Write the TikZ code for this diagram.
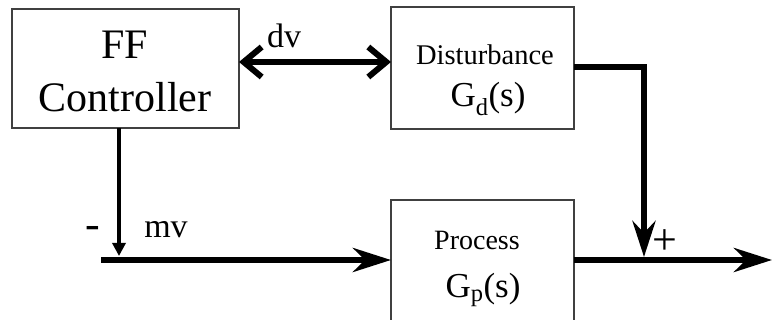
\documentclass[tikz,border=0pt]{standalone}
\usepackage{fontspec}
\setmainfont{Liberation Serif}
\usetikzlibrary{arrows.meta}
\begin{document}
\begin{tikzpicture}[x=1pt,y=-1pt,
  blockbox/.style={draw=black!75,line width=1.3pt,inner sep=0pt},
  heavy/.style={line width=6pt},
  signal/.style={heavy,-{Stealth[length=38pt,width=24pt,inset=12pt]}},
  sumin/.style={heavy,-{Stealth[length=36pt,width=23pt,inset=12pt]}},
  ffout/.style={line width=4pt,-{Triangle[length=13pt,width=13pt]}},
  twoway/.style={heavy,{Straight Barb[length=18pt,width=30pt]}-{Straight Barb[length=18pt,width=30pt]}}]
\useasboundingbox (0,0) rectangle (772,320);
\clip (0,0) rectangle (772,320);

% blocks
\draw[blockbox] (12,9) rectangle (239,128);
\coordinate (ffE) at (239,62);
\coordinate (ffS) at (119,128);
\node[font=\fontsize{42}{53}\selectfont,align=center] (fftext) at (125,71) {FF\\Controller};

\draw[blockbox] (391,7) rectangle (574,129);
\coordinate (distW) at (391,62);
\coordinate (distE) at (574,67);
\node[font=\fontsize{28.5}{30}\selectfont] (disttext) at (485,55) {Disturbance};
\node[font=\fontsize{35}{40}\selectfont] (gd) at (488,99) {G\textsubscript{d}(s)};

\draw[blockbox] (391,200) rectangle (574,340);
\coordinate (procW) at (391,260);
\coordinate (procE) at (574,260);
\node[font=\fontsize{28}{30}\selectfont] (proctext) at (477,240) {Process};
\node[font=\fontsize{35}{40}\selectfont] (gp) at (483,290) {G\textsubscript{p}(s)};

% junction points
\coordinate (mvstart) at (101,260);
\coordinate (ffjoin) at (119,256);
\coordinate (sumtop) at (644,257);
\coordinate (outend) at (772,260);

% connectors
\draw[twoway] (ffE) -- (distW);
\draw[ffout] (ffS) -- (ffjoin);
\draw[signal] (mvstart) -- (procW);
\draw[sumin,line join=miter] (distE) -| (sumtop);
\draw[signal] (procE) -- (outend);

% labels
\node[font=\fontsize{34}{34}\selectfont] (dv) at (284,36) {dv};
\node[font=\fontsize{34}{34}\selectfont] (mv) at (166,230) {mv};
\node[font=\fontsize{44}{44}\selectfont] (minus) at (93,232) {-};
\node[font=\fontsize{44}{44}\selectfont] (plus) at (665,242) {+};
\end{tikzpicture}
\end{document}
